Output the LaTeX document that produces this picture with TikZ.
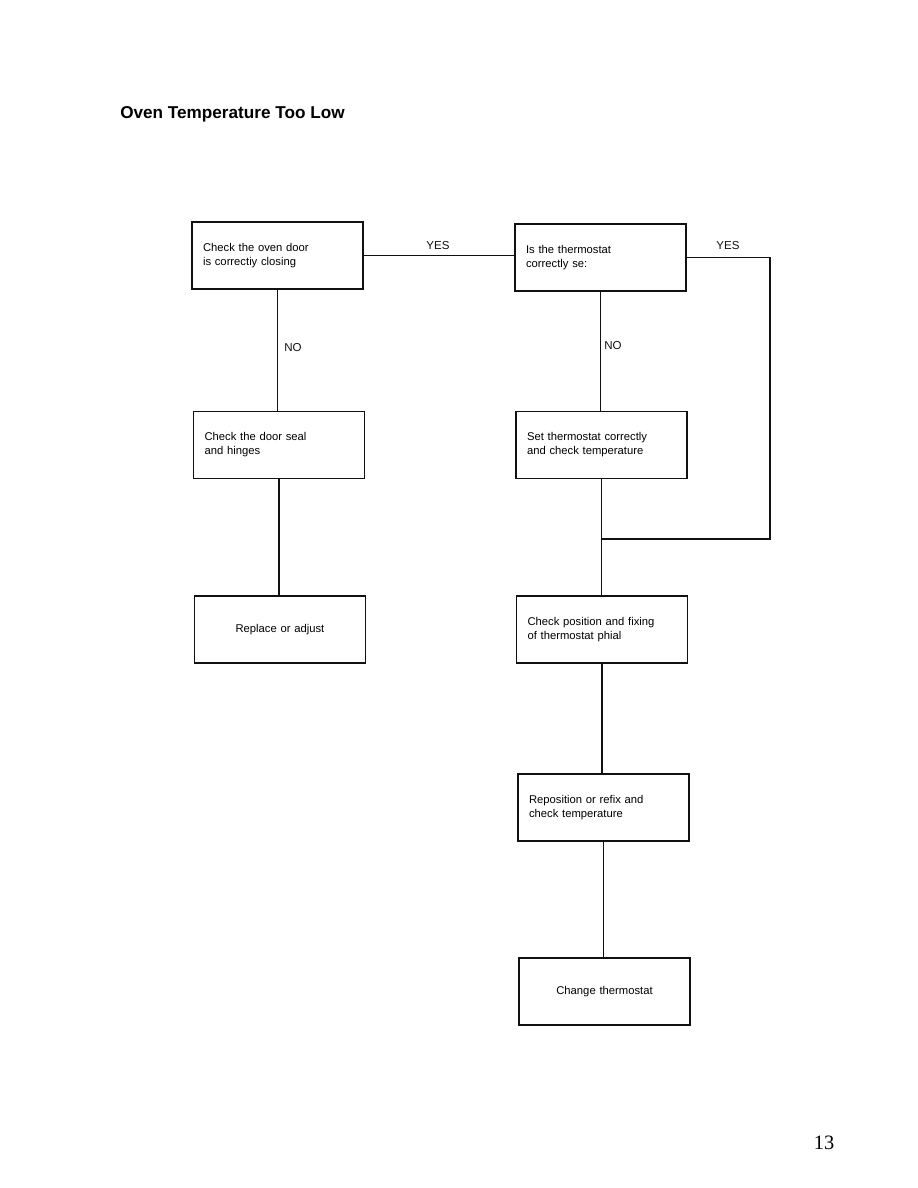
\documentclass[tikz,border=0pt]{standalone}
\usepackage{fontspec}
\setmainfont{Liberation Sans}
\newfontfamily\pagefont{Liberation Serif}
\usetikzlibrary{positioning,calc}
\definecolor{ink}{HTML}{111111}
\tikzset{
  stepbox/.style={draw=ink,line width=0.8pt,rectangle,minimum width=171*0.025cm,
                  minimum height=67*0.025cm,inner xsep=11*0.025cm,
                  text width=149*0.025cm,align=left,font=\fontsize{8.0}{10}\selectfont},
  endbox/.style={stepbox,align=center},
  link/.style={draw=ink,line width=0.8pt},
  answer/.style={font=\fontsize{8.2}{10}\selectfont,color=ink}
}
\begin{document}
\begin{tikzpicture}[x=0.025cm,y=-0.025cm]
    \path[use as bounding box,fill=white] (0,0) rectangle (918,1188);

    \node[font=\bfseries\fontsize{12.2}{15}\selectfont,anchor=west,inner sep=0pt] (title) at (120,114)
      {Oven Temperature Too Low};

    % left column
    \node[stepbox] (door) at (277.5,255.5)
      {Check the oven door\\is correctiy closing};
    \node[stepbox] (seal) at (279,445)
      {Check the door seal\\and hinges};
    \node[endbox] (adjust) at (280,629.5) {Replace or adjust};

    % right column
    \node[stepbox] (stat) at (600.5,257.5)
      {Is the thermostat\\correctly se:};
    \node[stepbox] (setstat) at (601.5,445)
      {Set thermostat correctly\\and check temperature};
    \node[stepbox] (phial) at (602,629.5)
      {Check position and fixing\\of thermostat phial};
    \node[stepbox] (refix) at (603.5,807.5)
      {Reposition or refix and\\check temperature};
    \node[endbox] (change) at (604.5,991.5) {Change thermostat};

    \node[answer] (yesa) at (438,246) {YES};
    \node[answer] (yesb) at (728,246) {YES};
    \node[answer] (noa) at (293,348) {NO};
    \node[answer] (nob) at (613,346) {NO};

    \coordinate (corner) at (770,539);

    \draw[link] (door.east) -- (stat.west |- door.east);
    \draw[link] (door.south) -- (door.south |- seal.north);
    \draw[link] (seal.south) -- (seal.south |- adjust.north);
    \draw[link] (stat.south) -- (stat.south |- setstat.north);
    \draw[link] (setstat.south) -- (setstat.south |- phial.north);
    \draw[link] (stat.east) -| (corner) -- (setstat.south |- corner);
    \draw[link] (phial.south) -- (phial.south |- refix.north);
    \draw[link] (refix.south) -- (refix.south |- change.north);

    \node[font=\pagefont\fontsize{14.5}{16}\selectfont] (page) at (824,1143) {13};
  \end{tikzpicture}
\end{document}
